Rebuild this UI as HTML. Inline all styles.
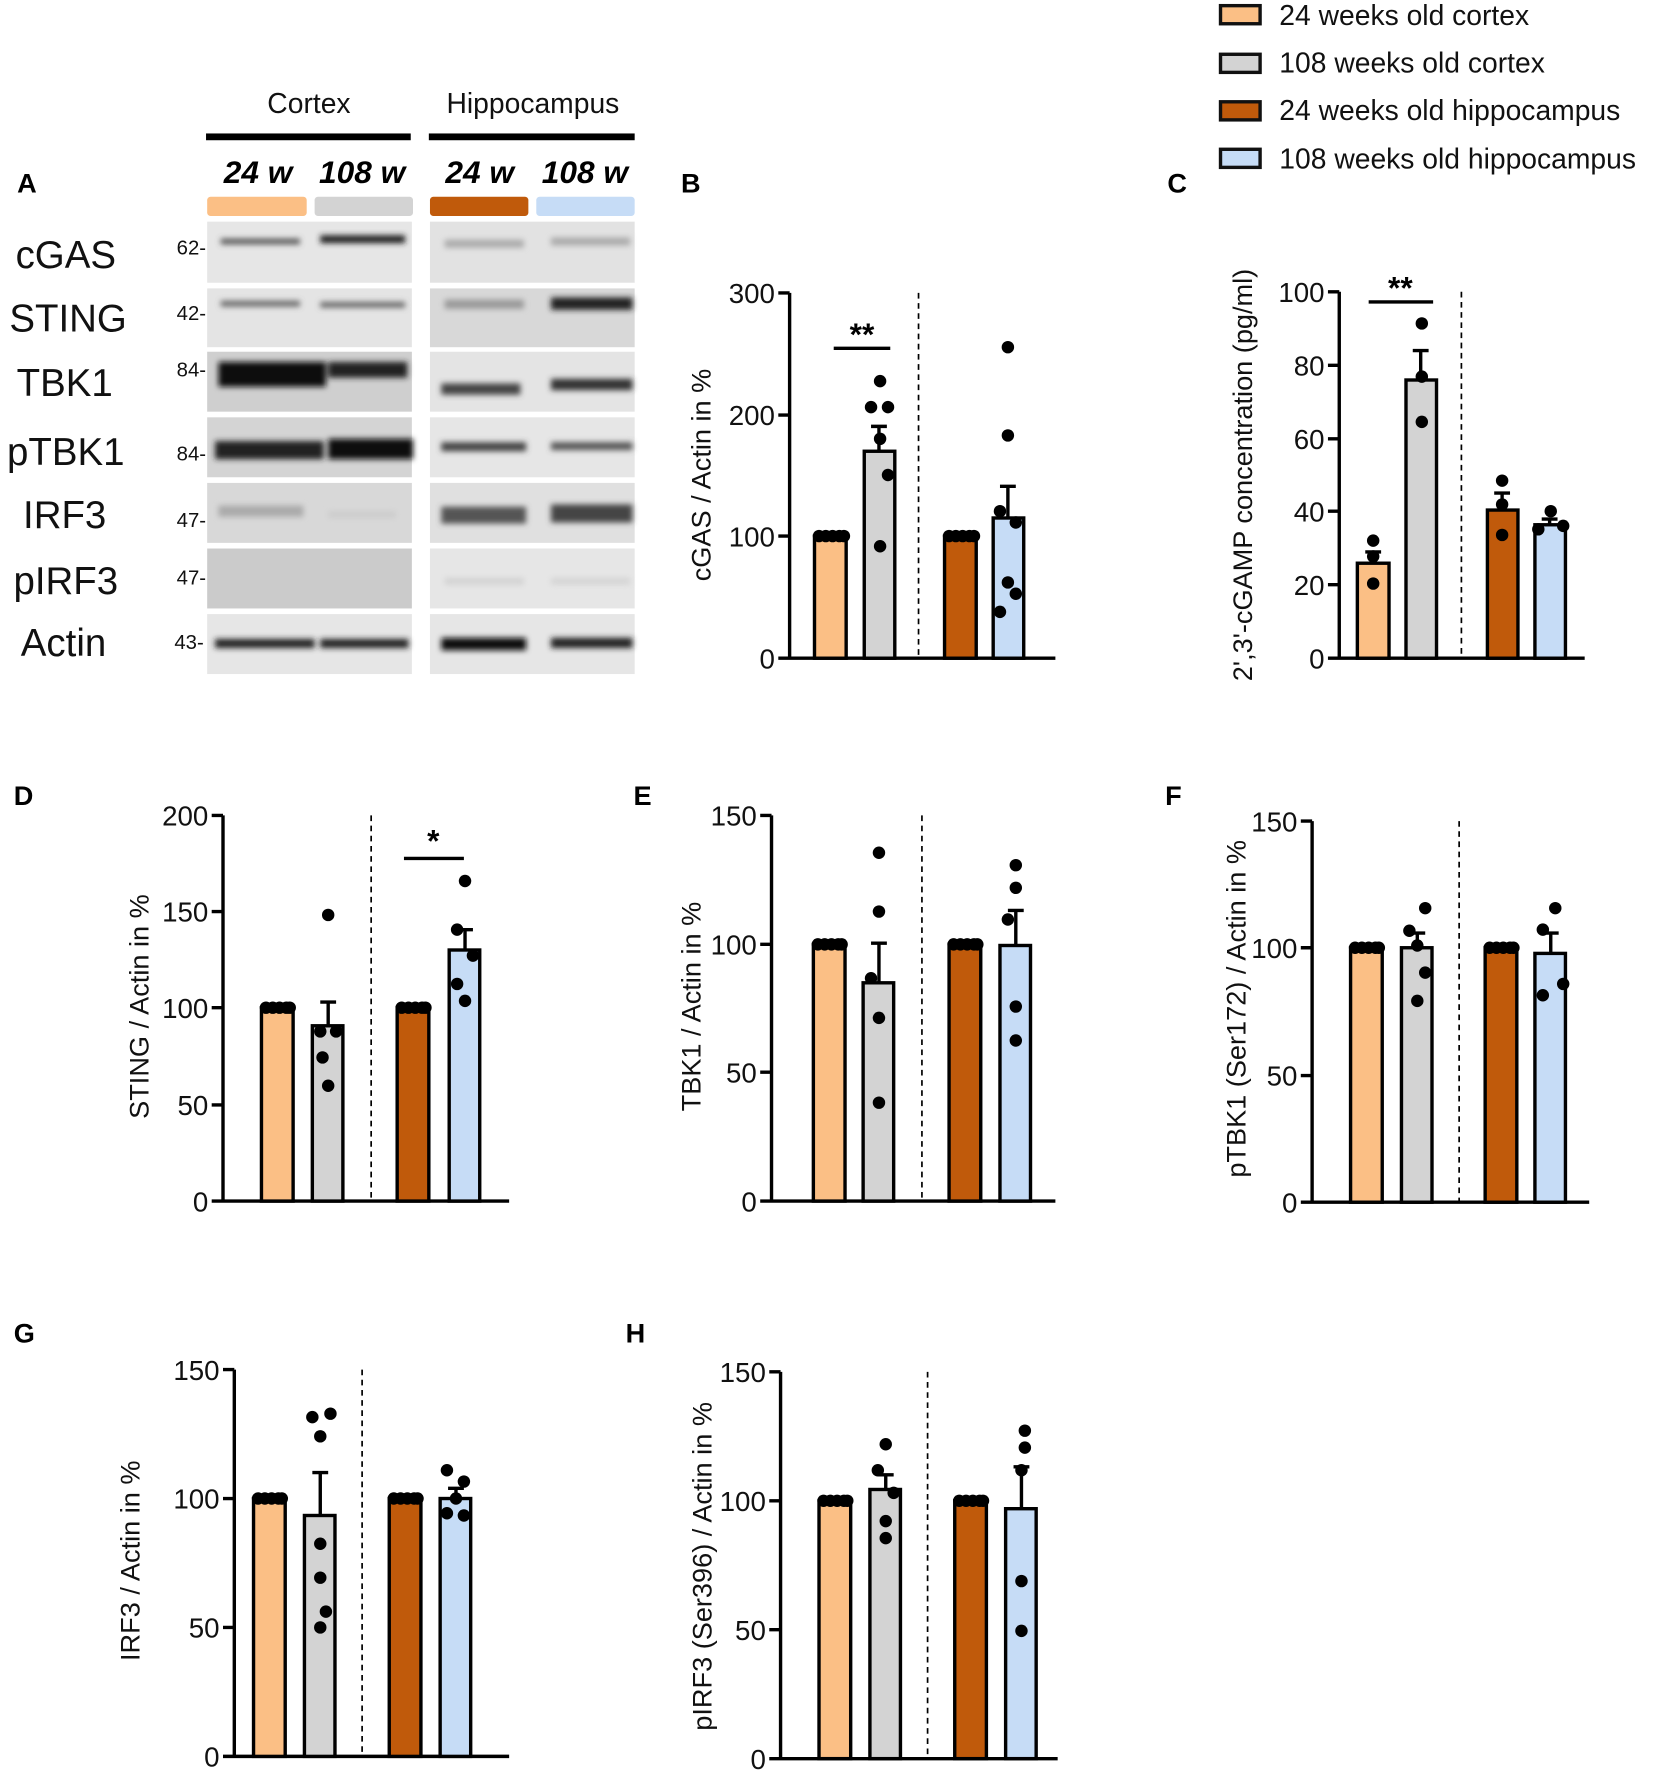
<!DOCTYPE html>
<html><head><meta charset="utf-8"><style>body{margin:0;background:#fff}svg{display:block}</style></head><body>
<svg width="1655" height="1779" viewBox="0 0 1463 1573" xmlns="http://www.w3.org/2000/svg" font-family="Liberation Sans, Arial, sans-serif">
<defs><filter id="bl" x="-20%" y="-100%" width="140%" height="300%"><feGaussianBlur stdDeviation="2.5"/></filter></defs>
<rect width="1463" height="1573" fill="#fff"/>
<!-- Legend -->
<g stroke="#111" stroke-width="3">
<rect x="1079" y="5" width="35" height="16" fill="#fbbf85"/><rect x="1079" y="48" width="35" height="16" fill="#d3d3d3"/>
<rect x="1079" y="90" width="35" height="16" fill="#c05a0b"/><rect x="1079" y="132" width="35" height="16" fill="#c6dcf6"/>
</g>
<g font-size="25" fill="#111"><text x="1131" y="22">24 weeks old cortex</text><text x="1131" y="64">108 weeks old cortex</text><text x="1131" y="106">24 weeks old hippocampus</text><text x="1131" y="149">108 weeks old hippocampus</text></g>
<!-- Panel labels -->
<g font-size="24" font-weight="bold" fill="#000"><text x="15" y="170">A</text><text x="602" y="170">B</text><text x="1032" y="170">C</text><text x="12" y="712">D</text><text x="560" y="712">E</text><text x="1030" y="712">F</text><text x="12" y="1187">G</text><text x="553" y="1187">H</text></g>
<!-- Panel A -->
<g font-size="25" text-anchor="middle" fill="#111"><text x="273" y="100">Cortex</text><text x="471" y="100">Hippocampus</text></g>
<rect x="182" y="118" width="181" height="6" fill="#000"/><rect x="379" y="118" width="182" height="6" fill="#000"/>
<g font-size="28" font-weight="bold" font-style="italic" text-anchor="middle"><text x="228" y="162">24 w</text><text x="320" y="162">108 w</text><text x="424" y="162">24 w</text><text x="517" y="162">108 w</text></g>
<rect x="183" y="174" width="88" height="17" rx="3" fill="#fbbf85"/><rect x="278" y="174" width="87" height="17" rx="3" fill="#d3d3d3"/>
<rect x="380" y="174" width="87" height="17" rx="3" fill="#c05a0b"/><rect x="474" y="174" width="87" height="17" rx="3" fill="#c6dcf6"/>
<g font-size="34" text-anchor="middle" fill="#111"><text x="58" y="237">cGAS</text><text x="60" y="293">STING</text><text x="57" y="350">TBK1</text><text x="58" y="411">pTBK1</text><text x="57" y="467">IRF3</text><text x="58" y="525">pIRF3</text><text x="56" y="580">Actin</text></g>
<g font-size="18" text-anchor="end" fill="#111"><text x="182" y="225">62-</text><text x="182" y="283">42-</text><text x="182" y="333">84-</text><text x="182" y="407">84-</text><text x="182" y="466">47-</text><text x="182" y="517">47-</text><text x="180" y="574">43-</text></g>
<g>
<rect x="183" y="196" width="181" height="54" fill="#e6e6e6"/><rect x="380" y="196" width="181" height="54" fill="#e2e2e2"/>
<rect x="183" y="255" width="181" height="52" fill="#e4e4e4"/><rect x="380" y="255" width="181" height="52" fill="#d8d8d8"/>
<rect x="183" y="311" width="181" height="53" fill="#cfcfcf"/><rect x="380" y="311" width="181" height="53" fill="#e4e4e4"/>
<rect x="183" y="369" width="181" height="53" fill="#d4d4d4"/><rect x="380" y="369" width="181" height="53" fill="#e6e6e6"/>
<rect x="183" y="427" width="181" height="53" fill="#d8d8d8"/><rect x="380" y="427" width="181" height="53" fill="#e0e0e0"/>
<rect x="183" y="485" width="181" height="53" fill="#cbcbcb"/><rect x="380" y="485" width="181" height="53" fill="#e6e6e6"/>
<rect x="183" y="543" width="181" height="53" fill="#e6e6e6"/><rect x="380" y="543" width="181" height="53" fill="#e6e6e6"/>
</g>
<g filter="url(#bl)">
<rect x="195" y="211" width="70" height="5" fill="#555"/><rect x="283" y="208" width="75" height="7" fill="#222"/>
<rect x="393" y="212" width="70" height="7" fill="#aaa"/><rect x="487" y="210" width="70" height="7" fill="#aaa"/>
<rect x="195" y="266" width="70" height="5" fill="#666"/><rect x="283" y="267" width="75" height="5" fill="#666"/>
<rect x="393" y="265" width="70" height="8" fill="#999"/><rect x="487" y="263" width="72" height="11" fill="#222"/>
<rect x="193" y="320" width="95" height="22" fill="#111"/><rect x="290" y="320" width="70" height="14" fill="#222"/>
<rect x="390" y="339" width="70" height="10" fill="#444"/><rect x="487" y="335" width="72" height="10" fill="#333"/>
<rect x="190" y="390" width="96" height="16" fill="#222"/><rect x="290" y="388" width="75" height="18" fill="#111"/>
<rect x="390" y="391" width="75" height="8" fill="#444"/><rect x="487" y="391" width="72" height="7" fill="#555"/>
<rect x="193" y="447" width="75" height="10" fill="#aaa"/><rect x="290" y="452" width="60" height="6" fill="#ccc"/>
<rect x="390" y="448" width="75" height="15" fill="#555"/><rect x="487" y="446" width="72" height="16" fill="#444"/>
<rect x="393" y="511" width="70" height="6" fill="#d2d2d2"/><rect x="487" y="511" width="70" height="6" fill="#d4d4d4"/>
<rect x="190" y="565" width="88" height="8" fill="#222"/><rect x="283" y="565" width="78" height="8" fill="#222"/>
<rect x="390" y="564" width="75" height="11" fill="#111"/><rect x="487" y="564" width="72" height="9" fill="#222"/>
</g>

<g stroke="#000" stroke-width="3" fill="none">
<path d="M698 259V582H933M688 259H698M688 367H698M688 474H698M688 582H698"/>
<path d="M1184 258V582H1401M1174 258H1184M1174 323H1184M1174 388H1184M1174 452H1184M1174 517H1184M1174 582H1184"/>
<path d="M197 721V1062H450M187 721H197M187 806H197M187 891H197M187 977H197M187 1062H197"/>
<path d="M682 721V1062H933M672 721H682M672 835H682M672 948H682M672 1062H682"/>
<path d="M1160 726V1063H1405M1150 726H1160M1150 838H1160M1150 951H1160M1150 1063H1160"/>
<path d="M207 1211V1553H450M197 1211H207M197 1325H207M197 1439H207M197 1553H207"/>
<path d="M690 1213V1555H935M680 1213H690M680 1327H690M680 1441H690M680 1555H690"/>
</g>
<g stroke="#000" stroke-width="1.5" stroke-dasharray="5,4"><path d="M812 259V582M1292 258V582M328 721V1062M815 721V1062M1290 726V1063M320 1211V1553M820 1213V1555"/></g>
<g font-size="24.5" text-anchor="end" fill="#111">
<text x="685" y="268">300</text><text x="685" y="376">200</text><text x="685" y="483">100</text><text x="685" y="591">0</text>
<text x="1171" y="267">100</text><text x="1171" y="332">80</text><text x="1171" y="397">60</text><text x="1171" y="461">40</text><text x="1171" y="526">20</text><text x="1171" y="591">0</text>
<text x="184" y="730">200</text><text x="184" y="815">150</text><text x="184" y="900">100</text><text x="184" y="986">50</text><text x="184" y="1071">0</text>
<text x="669" y="730">150</text><text x="669" y="844">100</text><text x="669" y="957">50</text><text x="669" y="1071">0</text>
<text x="1147" y="735">150</text><text x="1147" y="847">100</text><text x="1147" y="960">50</text><text x="1147" y="1072">0</text>
<text x="194" y="1220">150</text><text x="194" y="1334">100</text><text x="194" y="1448">50</text><text x="194" y="1562">0</text>
<text x="677" y="1222">150</text><text x="677" y="1336">100</text><text x="677" y="1450">50</text><text x="677" y="1564">0</text>
</g>
<g font-size="24" text-anchor="middle" fill="#111">
<text transform="translate(628,420) rotate(-90)">cGAS / Actin in %</text>
<text transform="translate(1107,420) rotate(-90)">2',3'-cGAMP concentration (pg/ml)</text>
<text transform="translate(131,890) rotate(-90)">STING / Actin in %</text>
<text transform="translate(619,890) rotate(-90)">TBK1 / Actin in %</text>
<text transform="translate(1101,892) rotate(-90)">pTBK1 (Ser172) / Actin in %</text>
<text transform="translate(123,1380) rotate(-90)">IRF3 / Actin in %</text>
<text transform="translate(629,1385) rotate(-90)">pIRF3 (Ser396) / Actin in %</text>
</g>
<g stroke="#000" stroke-width="3">
<rect x="720" y="474" width="28" height="108" fill="#fbbf85"/><rect x="764" y="399" width="27" height="183" fill="#d3d3d3"/><rect x="835" y="474" width="28" height="108" fill="#c05a0b"/><rect x="878" y="458" width="27" height="124" fill="#c6dcf6"/>
<rect x="1200" y="498" width="28" height="84" fill="#fbbf85"/><rect x="1243" y="336" width="27" height="246" fill="#d3d3d3"/><rect x="1315" y="451" width="27" height="131" fill="#c05a0b"/><rect x="1357" y="464" width="27" height="118" fill="#c6dcf6"/>
<rect x="231" y="891" width="28" height="171" fill="#fbbf85"/><rect x="276" y="907" width="27" height="155" fill="#d3d3d3"/><rect x="351" y="891" width="28" height="171" fill="#c05a0b"/><rect x="397" y="840" width="27" height="222" fill="#c6dcf6"/>
<rect x="719" y="835" width="28" height="227" fill="#fbbf85"/><rect x="763" y="869" width="27" height="193" fill="#d3d3d3"/><rect x="839" y="835" width="28" height="227" fill="#c05a0b"/><rect x="884" y="836" width="27" height="226" fill="#c6dcf6"/>
<rect x="1194" y="838" width="28" height="225" fill="#fbbf85"/><rect x="1239" y="838" width="27" height="225" fill="#d3d3d3"/><rect x="1313" y="838" width="28" height="225" fill="#c05a0b"/><rect x="1357" y="843" width="27" height="220" fill="#c6dcf6"/>
<rect x="224" y="1325" width="28" height="228" fill="#fbbf85"/><rect x="269" y="1340" width="27" height="213" fill="#d3d3d3"/><rect x="344" y="1325" width="28" height="228" fill="#c05a0b"/><rect x="389" y="1325" width="27" height="228" fill="#c6dcf6"/>
<rect x="724" y="1327" width="28" height="228" fill="#fbbf85"/><rect x="769" y="1317" width="27" height="238" fill="#d3d3d3"/><rect x="844" y="1327" width="28" height="228" fill="#c05a0b"/><rect x="889" y="1334" width="27" height="221" fill="#c6dcf6"/>
</g>
<g stroke="#000" stroke-width="3" fill="none">
<path d="M777 399V377M770 377H784M891 458V430M884 430H898"/>
<path d="M1214 498V488M1207 488H1221M1256 336V310M1249 310H1263M1328 451V436M1321 436H1335M1370 464V459M1363 459H1377"/>
<path d="M290 907V886M283 886H297M411 840V822M404 822H418"/>
<path d="M777 869V834M770 834H784M898 836V805M891 805H905"/>
<path d="M1253 838V825M1246 825H1260M1371 843V825M1364 825H1378"/>
<path d="M283 1340V1302M276 1302H290M403 1325V1316M396 1316H410"/>
<path d="M783 1317V1304M776 1304H790M903 1334V1297M896 1297H910"/>
<path d="M737 308H787M1210 267H1267M357 759H410"/>
</g>
<g font-size="28" font-weight="bold" text-anchor="middle"><text x="762" y="305">**</text><text x="1238" y="264">**</text><text x="383" y="753">*</text></g>
<g fill="#000">
<circle cx="724" cy="474" r="5.5"/><circle cx="730" cy="474" r="5.5"/><circle cx="736" cy="474" r="5.5"/><circle cx="742" cy="474" r="5.5"/><circle cx="746" cy="474" r="5.5"/>
<circle cx="839" cy="474" r="5.5"/><circle cx="845" cy="474" r="5.5"/><circle cx="851" cy="474" r="5.5"/><circle cx="857" cy="474" r="5.5"/><circle cx="861" cy="474" r="5.5"/>
<circle cx="778" cy="337" r="5.5"/><circle cx="770" cy="360" r="5.5"/><circle cx="785" cy="360" r="5.5"/><circle cx="778" cy="388" r="5.5"/><circle cx="785" cy="420" r="5.5"/><circle cx="778" cy="483" r="5.5"/>
<circle cx="891" cy="307" r="5.5"/><circle cx="891" cy="385" r="5.5"/><circle cx="884" cy="452" r="5.5"/><circle cx="898" cy="462" r="5.5"/><circle cx="891" cy="515" r="5.5"/><circle cx="898" cy="525" r="5.5"/><circle cx="884" cy="541" r="5.5"/>
<circle cx="1214" cy="478" r="5.5"/><circle cx="1214" cy="492" r="5.5"/><circle cx="1214" cy="516" r="5.5"/>
<circle cx="1257" cy="286" r="5.5"/><circle cx="1257" cy="333" r="5.5"/><circle cx="1257" cy="373" r="5.5"/>
<circle cx="1328" cy="425" r="5.5"/><circle cx="1328" cy="446" r="5.5"/><circle cx="1328" cy="473" r="5.5"/>
<circle cx="1360" cy="468" r="5.5"/><circle cx="1371" cy="452" r="5.5"/><circle cx="1382" cy="465" r="5.5"/>
<circle cx="235" cy="891" r="5.5"/><circle cx="241" cy="891" r="5.5"/><circle cx="247" cy="891" r="5.5"/><circle cx="253" cy="891" r="5.5"/><circle cx="256" cy="891" r="5.5"/>
<circle cx="355" cy="891" r="5.5"/><circle cx="361" cy="891" r="5.5"/><circle cx="367" cy="891" r="5.5"/><circle cx="373" cy="891" r="5.5"/><circle cx="376" cy="891" r="5.5"/>
<circle cx="290" cy="809" r="5.5"/><circle cx="283" cy="912" r="5.5"/><circle cx="297" cy="912" r="5.5"/><circle cx="285" cy="935" r="5.5"/><circle cx="290" cy="960" r="5.5"/>
<circle cx="411" cy="779" r="5.5"/><circle cx="404" cy="822" r="5.5"/><circle cx="418" cy="845" r="5.5"/><circle cx="404" cy="870" r="5.5"/><circle cx="411" cy="885" r="5.5"/>
<circle cx="723" cy="835" r="5.5"/><circle cx="729" cy="835" r="5.5"/><circle cx="735" cy="835" r="5.5"/><circle cx="741" cy="835" r="5.5"/><circle cx="744" cy="835" r="5.5"/>
<circle cx="843" cy="835" r="5.5"/><circle cx="849" cy="835" r="5.5"/><circle cx="855" cy="835" r="5.5"/><circle cx="861" cy="835" r="5.5"/><circle cx="864" cy="835" r="5.5"/>
<circle cx="777" cy="754" r="5.5"/><circle cx="777" cy="806" r="5.5"/><circle cx="770" cy="865" r="5.5"/><circle cx="777" cy="900" r="5.5"/><circle cx="777" cy="975" r="5.5"/>
<circle cx="898" cy="765" r="5.5"/><circle cx="898" cy="785" r="5.5"/><circle cx="891" cy="813" r="5.5"/><circle cx="898" cy="890" r="5.5"/><circle cx="898" cy="920" r="5.5"/>
<circle cx="1198" cy="838" r="5.5"/><circle cx="1204" cy="838" r="5.5"/><circle cx="1210" cy="838" r="5.5"/><circle cx="1216" cy="838" r="5.5"/><circle cx="1219" cy="838" r="5.5"/>
<circle cx="1317" cy="838" r="5.5"/><circle cx="1323" cy="838" r="5.5"/><circle cx="1329" cy="838" r="5.5"/><circle cx="1335" cy="838" r="5.5"/><circle cx="1338" cy="838" r="5.5"/>
<circle cx="1260" cy="803" r="5.5"/><circle cx="1246" cy="823" r="5.5"/><circle cx="1253" cy="836" r="5.5"/><circle cx="1260" cy="860" r="5.5"/><circle cx="1253" cy="885" r="5.5"/>
<circle cx="1375" cy="803" r="5.5"/><circle cx="1364" cy="822" r="5.5"/><circle cx="1364" cy="880" r="5.5"/><circle cx="1382" cy="870" r="5.5"/>
<circle cx="228" cy="1325" r="5.5"/><circle cx="234" cy="1325" r="5.5"/><circle cx="240" cy="1325" r="5.5"/><circle cx="246" cy="1325" r="5.5"/><circle cx="249" cy="1325" r="5.5"/>
<circle cx="348" cy="1325" r="5.5"/><circle cx="354" cy="1325" r="5.5"/><circle cx="360" cy="1325" r="5.5"/><circle cx="366" cy="1325" r="5.5"/><circle cx="369" cy="1325" r="5.5"/>
<circle cx="276" cy="1253" r="5.5"/><circle cx="292" cy="1250" r="5.5"/><circle cx="283" cy="1270" r="5.5"/><circle cx="283" cy="1365" r="5.5"/><circle cx="283" cy="1395" r="5.5"/><circle cx="288" cy="1425" r="5.5"/><circle cx="283" cy="1439" r="5.5"/>
<circle cx="395" cy="1300" r="5.5"/><circle cx="410" cy="1310" r="5.5"/><circle cx="395" cy="1338" r="5.5"/><circle cx="410" cy="1340" r="5.5"/><circle cx="403" cy="1325" r="5.5"/>
<circle cx="728" cy="1327" r="5.5"/><circle cx="734" cy="1327" r="5.5"/><circle cx="740" cy="1327" r="5.5"/><circle cx="746" cy="1327" r="5.5"/><circle cx="749" cy="1327" r="5.5"/>
<circle cx="848" cy="1327" r="5.5"/><circle cx="854" cy="1327" r="5.5"/><circle cx="860" cy="1327" r="5.5"/><circle cx="866" cy="1327" r="5.5"/><circle cx="869" cy="1327" r="5.5"/>
<circle cx="783" cy="1277" r="5.5"/><circle cx="776" cy="1300" r="5.5"/><circle cx="790" cy="1320" r="5.5"/><circle cx="783" cy="1345" r="5.5"/><circle cx="783" cy="1360" r="5.5"/>
<circle cx="906" cy="1265" r="5.5"/><circle cx="906" cy="1280" r="5.5"/><circle cx="903" cy="1300" r="5.5"/><circle cx="903" cy="1398" r="5.5"/><circle cx="903" cy="1442" r="5.5"/>
</g>
</svg>
</body></html>
